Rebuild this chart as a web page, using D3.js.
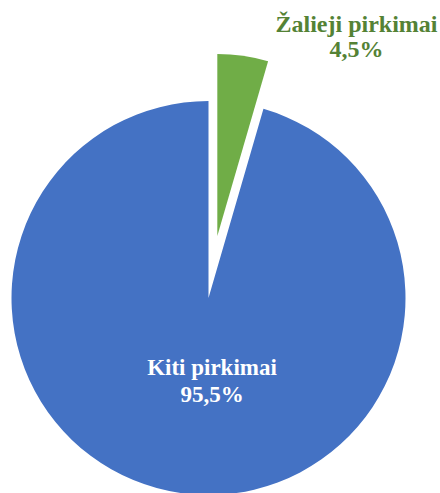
<!DOCTYPE html>
<html>
<head>
<meta charset="utf-8">
<script src="https://cdn.jsdelivr.net/npm/d3@7"></script>
<style>
html,body{margin:0;padding:0;background:#fff;}
svg{display:block;}
</style>
</head>
<body>
<div id="chart"></div>
<script>
const categories = ["Žalieji pirkimai", "Kiti pirkimai"];
const values = [4.5, 95.5];
const valueLabels = ["4,5%", "95,5%"];
const colors = ["#70AD47", "#4472C4"];
const labelColors = ["#548235", "#FFFFFF"];

const W = 440, H = 493;
const cx = 208.5, cy = 298;
const R = 197;          // main pie radius
const Rg = 182;         // exploded slice radius
const explode = 62.6;   // explosion distance

const svg = d3.select("#chart").append("svg")
  .attr("width", W).attr("height", H);

const pie = d3.pie().sort(null).value(d => d)(values);

const g = svg.append("g").attr("transform", `translate(${cx},${cy})`);

pie.forEach((p, i) => {
  const isExploded = i === 0;
  const arc = d3.arc().innerRadius(0).outerRadius(isExploded ? Rg : R);
  const mid = (p.startAngle + p.endAngle) / 2;
  const dx = isExploded ? explode * Math.sin(mid) : 0;
  const dy = isExploded ? -explode * Math.cos(mid) : 0;
  g.append("path")
    .attr("d", arc(p))
    .attr("transform", `translate(${dx},${dy})`)
    .attr("fill", colors[i]);
});

// Labels
const labelPos = [
  {x: 356.5, y1: 32, y2: 57, size: 24},   // green, outside
  {x: 212, y1: 375, y2: 402, size: 23}  // blue, inside
];
pie.forEach((p, i) => {
  const t = svg.append("text")
    .attr("text-anchor", "middle")
    .attr("font-family", "'Liberation Serif', 'Times New Roman', serif")
    .attr("font-weight", "bold")
    .attr("font-size", labelPos[i].size)
    .attr("fill", labelColors[i]);
  t.append("tspan").attr("x", labelPos[i].x).attr("y", labelPos[i].y1).text(categories[i]);
  t.append("tspan").attr("x", labelPos[i].x).attr("y", labelPos[i].y2).text(valueLabels[i]);
});
</script>
</body>
</html>
